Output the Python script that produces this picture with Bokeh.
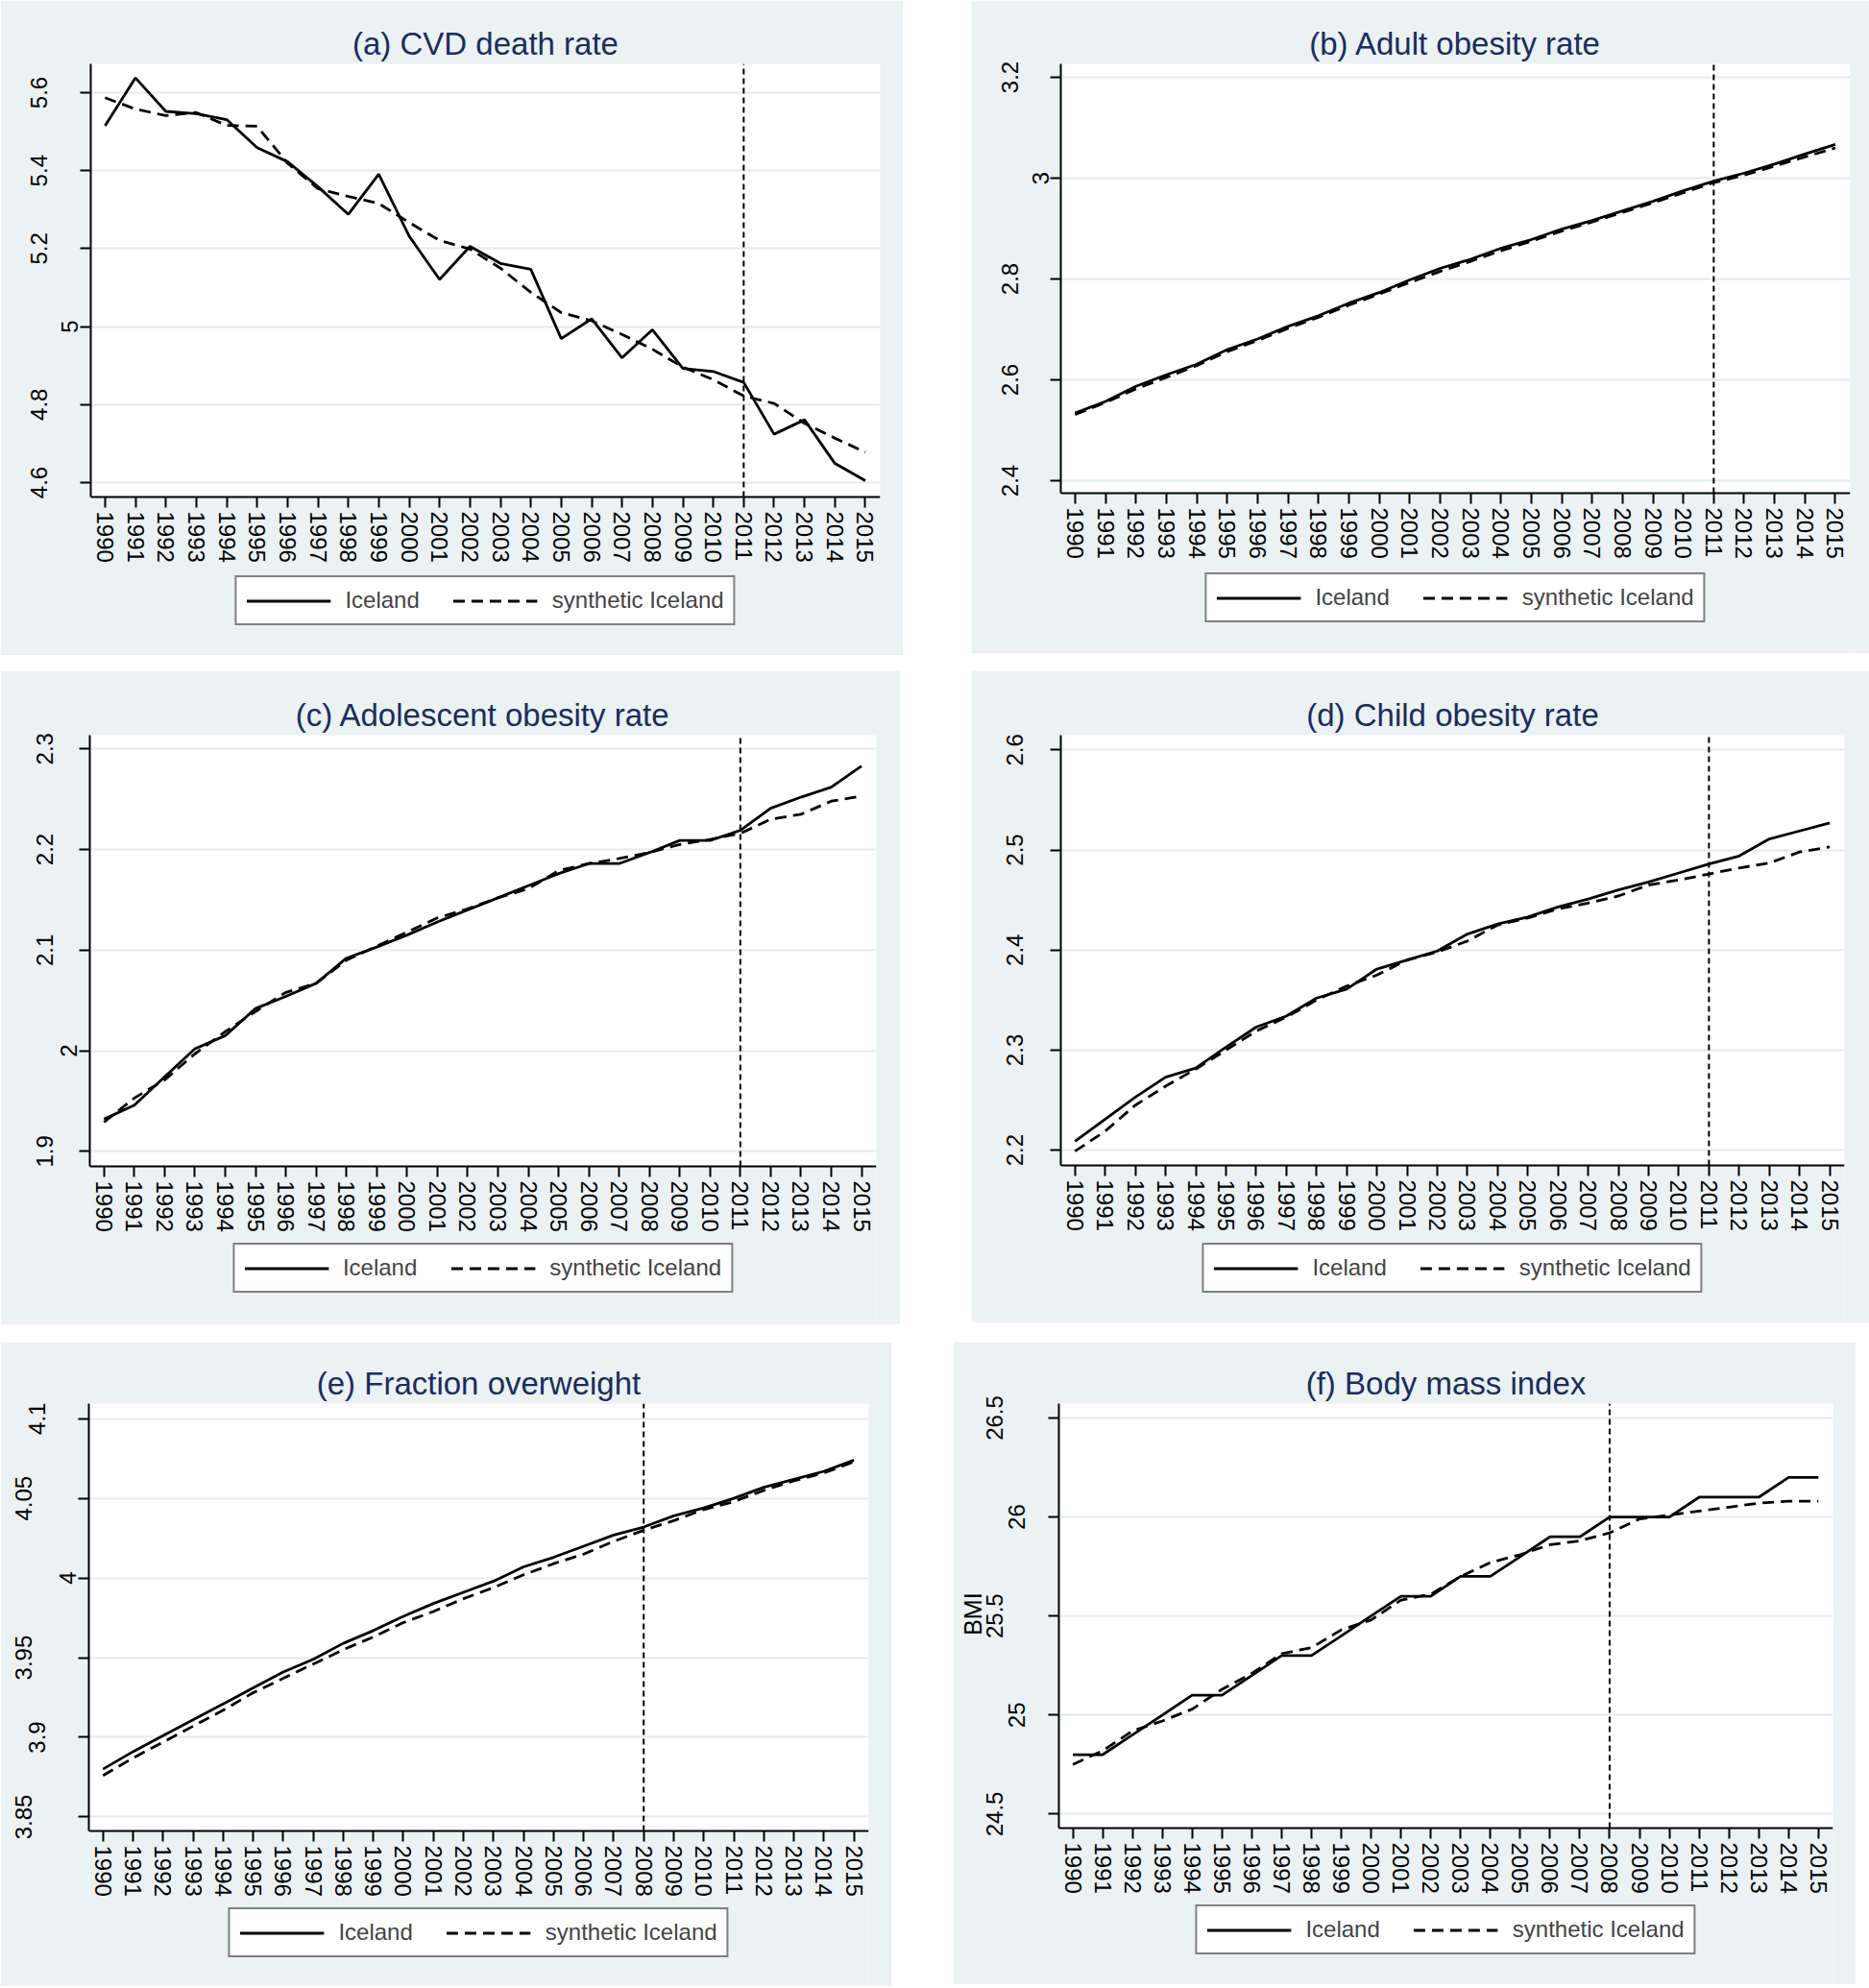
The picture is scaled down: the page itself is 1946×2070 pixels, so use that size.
from bokeh.plotting import figure
from bokeh.models import (Range1d, FixedTicker, LinearAxis, Legend, LegendItem, Spacer,
                          BoxAnnotation)
from bokeh.layouts import row, column
from bokeh.embed import file_html
from bokeh.resources import INLINE

# ---------------- data ----------------
years = list(range(1990, 2016))

cvd_iceland = [5.515, 5.638, 5.552, 5.546, 5.531, 5.459, 5.423, 5.359, 5.288, 5.391, 5.232, 5.121, 5.206,
               5.162, 5.147, 4.969, 5.020, 4.920, 4.992, 4.893, 4.885, 4.857, 4.724, 4.761, 4.649, 4.605]
cvd_synth = [5.587, 5.558, 5.541, 5.549, 5.516, 5.514, 5.419, 5.354, 5.334, 5.316, 5.267, 5.221, 5.199,
             5.150, 5.088, 5.036, 5.015, 4.980, 4.942, 4.896, 4.864, 4.822, 4.803, 4.752, 4.714, 4.678]

adult_iceland = [2.534, 2.557, 2.587, 2.610, 2.631, 2.660, 2.681, 2.706, 2.727, 2.752, 2.773, 2.798, 2.821,
                 2.839, 2.861, 2.878, 2.899, 2.916, 2.935, 2.954, 2.975, 2.994, 3.010, 3.028, 3.048, 3.067]
adult_synth = [2.531, 2.555, 2.582, 2.605, 2.628, 2.656, 2.678, 2.702, 2.724, 2.748, 2.770, 2.793, 2.815,
               2.835, 2.856, 2.875, 2.895, 2.913, 2.932, 2.951, 2.971, 2.991, 3.006, 3.024, 3.042, 3.060]

adol_iceland = [1.932, 1.946, 1.974, 2.002, 2.015, 2.042, 2.054, 2.067, 2.092, 2.103, 2.115, 2.128, 2.140,
                2.152, 2.164, 2.176, 2.186, 2.186, 2.197, 2.209, 2.209, 2.219, 2.241, 2.252, 2.262, 2.283]
adol_synth = [1.929, 1.953, 1.971, 1.997, 2.019, 2.039, 2.058, 2.067, 2.090, 2.104, 2.118, 2.132, 2.141,
              2.152, 2.161, 2.179, 2.186, 2.191, 2.197, 2.205, 2.210, 2.216, 2.230, 2.235, 2.248, 2.253]

child_iceland = [2.209, 2.231, 2.253, 2.273, 2.282, 2.303, 2.323, 2.334, 2.352, 2.361, 2.381, 2.390, 2.399,
                 2.416, 2.426, 2.433, 2.443, 2.451, 2.460, 2.468, 2.477, 2.486, 2.494, 2.511, 2.519, 2.527]
child_synth = [2.199, 2.219, 2.245, 2.264, 2.281, 2.300, 2.319, 2.333, 2.350, 2.364, 2.375, 2.390, 2.398,
               2.409, 2.425, 2.432, 2.441, 2.447, 2.454, 2.465, 2.470, 2.476, 2.482, 2.487, 2.498, 2.503]

ow_iceland = [3.880, 3.891, 3.901, 3.911, 3.921, 3.931, 3.941, 3.949, 3.959, 3.967, 3.976, 3.984, 3.991,
              3.998, 4.007, 4.013, 4.020, 4.027, 4.032, 4.039, 4.044, 4.050, 4.057, 4.062, 4.067, 4.074]
ow_synth = [3.876, 3.887, 3.897, 3.907, 3.917, 3.928, 3.937, 3.946, 3.955, 3.963, 3.972, 3.979, 3.987,
            3.994, 4.002, 4.009, 4.015, 4.023, 4.030, 4.036, 4.043, 4.048, 4.055, 4.061, 4.066, 4.073]

bmi_iceland = [24.8, 24.8, 24.9, 25.0, 25.1, 25.1, 25.2, 25.3, 25.3, 25.4, 25.5, 25.6, 25.6,
               25.7, 25.7, 25.8, 25.9, 25.9, 26.0, 26.0, 26.0, 26.1, 26.1, 26.1, 26.2, 26.2]
bmi_synth = [24.75, 24.82, 24.92, 24.97, 25.03, 25.13, 25.21, 25.31, 25.34, 25.43, 25.48, 25.58, 25.61,
             25.70, 25.77, 25.81, 25.86, 25.88, 25.92, 25.99, 26.01, 26.03, 26.05, 26.07, 26.08, 26.08]

cvd_ticks = [4.6, 4.8, 5.0, 5.2, 5.4, 5.6]
cvd_tick_labels = ["4.6", "4.8", "5", "5.2", "5.4", "5.6"]
adult_ticks = [2.4, 2.6, 2.8, 3.0, 3.2]
adult_tick_labels = ["2.4", "2.6", "2.8", "3", "3.2"]
adol_ticks = [1.9, 2.0, 2.1, 2.2, 2.3]
adol_tick_labels = ["1.9", "2", "2.1", "2.2", "2.3"]
child_ticks = [2.2, 2.3, 2.4, 2.5, 2.6]
child_tick_labels = ["2.2", "2.3", "2.4", "2.5", "2.6"]
ow_ticks = [3.85, 3.9, 3.95, 4.0, 4.05, 4.1]
ow_tick_labels = ["3.85", "3.9", "3.95", "4", "4.05", "4.1"]
bmi_ticks = [24.5, 25.0, 25.5, 26.0, 26.5]
bmi_tick_labels = ["24.5", "25", "25.5", "26", "26.5"]

titles = ["(a) CVD death rate", "(b) Adult obesity rate", "(c) Adolescent obesity rate",
          "(d) Child obesity rate", "(e) Fraction overweight", "(f) Body mass index"]
treatment_years = [2011, 2011, 2011, 2011, 2008, 2008]
series_names = ["Iceland", "synthetic Iceland"]
bmi_axis_title = "BMI"

# ---------------- style ----------------
BG = "#eaf2f3"
GRID = "#e2ebee"
TITLE_COLOR = "#1c2c5c"
FONT = "Liberation Sans"
X_LO, X_HI = 1989.53, 2015.49
TICK_FS = "24px"


def make_panel(title, ice, syn, ticks, labels, ylo, yhi, treat,
               bl, fw, br, top_px, axis_px, bottom_px, groups, leg_margin,
               ylabel=None, ylabel_standoff=0, ylabel_pad=0):
    fh = bottom_px - top_px
    ppu = (axis_px - top_px) / (yhi - ylo)
    ylo_ext = ylo - (bottom_px - axis_px) / ppu
    p = figure(frame_width=fw, frame_height=fh, x_range=Range1d(X_LO, X_HI),
               y_range=Range1d(ylo_ext, yhi),
               output_backend="svg", toolbar_location=None,
               min_border_left=bl, min_border_right=br, min_border_top=top_px,
               min_border_bottom=0,
               background_fill_color=BG, border_fill_color=BG, outline_line_color=None,
               title=title)
    p.title.text_font = FONT
    p.title.text_font_size = "33px"
    p.title.text_font_style = "normal"
    p.title.text_color = TITLE_COLOR
    p.title.align = "center"
    p.title.standoff = 5

    # white plot region (data area only)
    p.add_layout(BoxAnnotation(bottom=ylo, fill_color="white", fill_alpha=1.0,
                               line_color=None, level="image"))

    # x axis pinned at the bottom of the data area
    xa = p.xaxis[0]
    xa.fixed_location = ylo
    xa.ticker = FixedTicker(ticks=years)
    xa.major_label_orientation = "vertical"
    xa.major_label_text_font = FONT
    xa.major_label_text_font_size = TICK_FS
    xa.major_label_text_color = "black"
    xa.major_label_standoff = 4
    xa.major_tick_out = 11
    xa.major_tick_in = 0
    xa.minor_tick_out = 0
    xa.minor_tick_in = 0
    xa.minor_tick_line_color = None
    xa.axis_line_width = 2
    xa.major_tick_line_width = 2
    p.xgrid.visible = False

    # y axes: innermost axis carries ticks, line and grid
    ya = p.yaxis[0]
    ya.ticker = FixedTicker(ticks=ticks)
    ya.bounds = (ylo, yhi)
    first_set, first_standoff = groups[0]
    ya.major_label_overrides = {t: (l if l in first_set else "") for t, l in zip(ticks, labels)}
    ya.major_label_standoff = first_standoff
    ya.major_label_orientation = "vertical"
    ya.major_label_text_font = FONT
    ya.major_label_text_font_size = TICK_FS
    ya.major_label_text_color = "black"
    ya.major_tick_out = 11
    ya.major_tick_in = 0
    ya.minor_tick_out = 0
    ya.minor_tick_in = 0
    ya.minor_tick_line_color = None
    ya.axis_line_width = 2
    ya.major_tick_line_width = 2
    p.ygrid.grid_line_color = GRID
    p.ygrid.grid_line_width = 2

    outer = ya
    for gset, gstand in groups[1:]:
        gt = [t for t, l in zip(ticks, labels) if l in gset]
        ax = LinearAxis(ticker=FixedTicker(ticks=gt), bounds=(ylo, yhi),
                        major_label_overrides={t: l for t, l in zip(ticks, labels) if l in gset},
                        major_label_standoff=gstand, major_label_orientation="vertical",
                        major_label_text_font=FONT, major_label_text_font_size=TICK_FS,
                        major_label_text_color="black",
                        axis_line_color=None, major_tick_line_color=None, minor_tick_line_color=None,
                        major_tick_out=0, major_tick_in=0, minor_tick_out=0, minor_tick_in=0)
        p.add_layout(ax, "left")
        outer = ax
    if ylabel is not None:
        # leading no-break spaces lift the label to the middle of the data area
        outer.axis_label = "\u00a0" * ylabel_pad + ylabel
        outer.axis_label_text_font = FONT
        outer.axis_label_text_font_size = "25px"
        outer.axis_label_text_font_style = "normal"
        outer.axis_label_text_color = "black"
        outer.axis_label_standoff = ylabel_standoff

    r1 = p.line(years, ice, line_color="black", line_width=2.8)
    r2 = p.line(years, syn, line_color="black", line_width=2.8, line_dash="12 7")

    p.segment(x0=[treat], y0=[ylo], x1=[treat], y1=[yhi], line_color="black",
              line_width=2, line_dash="6 4")

    legend = Legend(items=[LegendItem(label=series_names[0], renderers=[r1]),
                           LegendItem(label=series_names[1], renderers=[r2])],
                    orientation="horizontal", location="bottom_center",
                    border_line_color="black", border_line_width=2,
                    background_fill_color="white", background_fill_alpha=1.0,
                    label_text_font=FONT, label_text_font_size="24px",
                    glyph_width=88, glyph_height=25, label_height=25,
                    label_standoff=15, spacing=35, padding=10, margin=leg_margin)
    p.add_layout(legend, "center")
    return p


pa = make_panel(titles[0], cvd_iceland, cvd_synth, cvd_ticks, cvd_tick_labels, 4.563, 5.6739,
                treatment_years[0], 94, 822, 24, 66, 517, 682,
                [(["5"], 2), (["4.6", "4.8", "5.2", "5.4", "5.6"], 12)], 31)
pb = make_panel(titles[1], adult_iceland, adult_synth, adult_ticks, adult_tick_labels, 2.3752, 3.2267,
                treatment_years[1], 93, 822, 20, 66, 513, 680,
                [(["3"], 1), (["2.4", "2.6", "2.8", "3.2"], 12)], 32)
pc = make_panel(titles[2], adol_iceland, adol_synth, adol_ticks, adol_tick_labels, 1.8851, 2.3136,
                treatment_years[2], 93, 819, 25, 67, 516, 681,
                [(["2"], 2), (["1.9", "2.1", "2.2", "2.3"], 5)], 33)
pd = make_panel(titles[3], child_iceland, child_synth, child_ticks, child_tick_labels, 2.1848, 2.6147,
                treatment_years[3], 93, 816, 26, 66, 514, 679,
                [(["2.2", "2.3", "2.4", "2.5", "2.6"], 28)], 9)
pe = make_panel(titles[4], ow_iceland, ow_synth, ow_ticks, ow_tick_labels, 3.8412, 4.1095,
                treatment_years[4], 92, 812, 24, 64, 509, 671,
                [(["4"], 2), (["3.9", "4.1"], 12), (["3.85", "3.95", "4.05"], -6)], 30)
pf = make_panel(titles[5], bmi_iceland, bmi_synth, bmi_ticks, bmi_tick_labels, 24.4292, 26.5727,
                treatment_years[5], 110, 806, 24, 64, 506, 669,
                [(["25", "26"], 24), (["24.5", "25.5", "26.5"], 3)], 31,
                ylabel=bmi_axis_title, ylabel_standoff=-2, ylabel_pad=24)

layout = column(row(pa, pb, spacing=71), Spacer(height=16),
                row(pc, pd, spacing=74), Spacer(height=18),
                row(pe, pf, spacing=64))

open("out.html", "w").write(file_html(layout, INLINE, "Iceland synthetic control"))
